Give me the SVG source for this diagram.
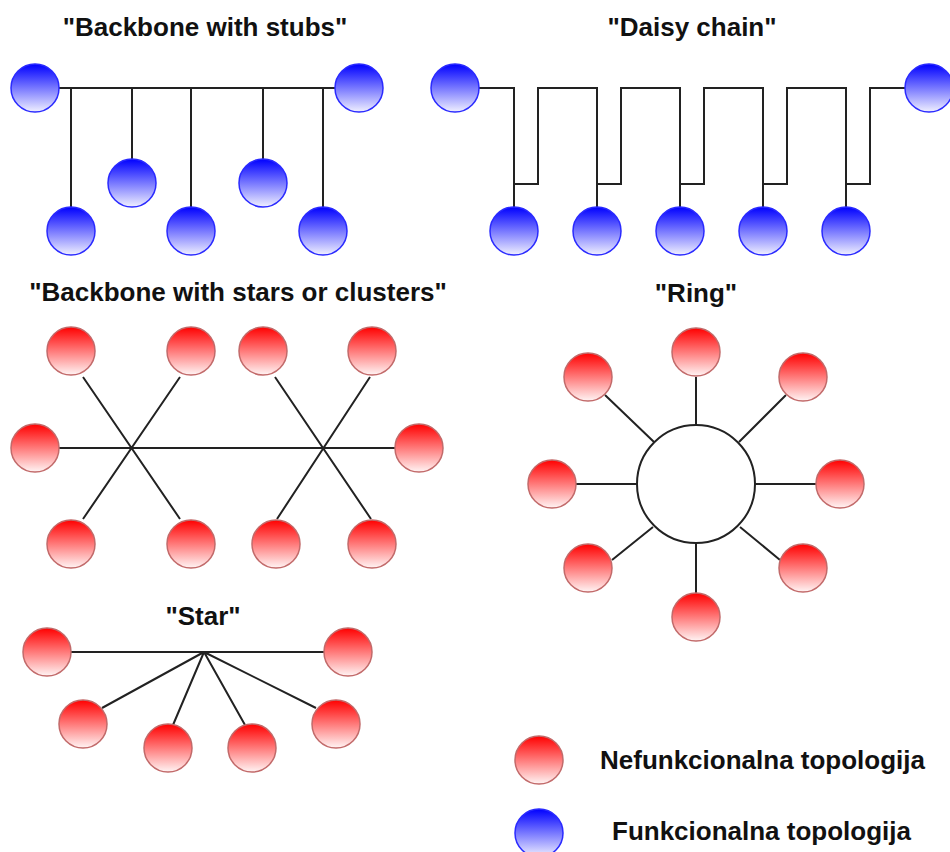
<svg xmlns="http://www.w3.org/2000/svg" width="950" height="852" viewBox="0 0 950 852">
  <defs>
    <linearGradient id="gBlue" x1="0" y1="0" x2="0" y2="1">
      <stop offset="0" stop-color="#0000ff"/>
      <stop offset="1" stop-color="#f0f0ff"/>
    </linearGradient>
    <linearGradient id="gRed" x1="0" y1="0" x2="0" y2="1">
      <stop offset="0" stop-color="#ff0000"/>
      <stop offset="1" stop-color="#fff4f4"/>
    </linearGradient>
    <style>
      .fn { fill: url(#gBlue); stroke: #2a2aff; stroke-width: 1.5; }
      .nf { fill: url(#gRed); stroke: #c26a6a; stroke-width: 1.5; }
      .wire { fill: none; stroke: #222; stroke-width: 2; }
      .ring { fill: #fff; stroke: #222; stroke-width: 2; }
      .title { font-family: "Liberation Sans", Arial, sans-serif; font-weight: bold; font-size: 26px; fill: #111; text-anchor: middle; }
      .legend { font-family: "Liberation Sans", Arial, sans-serif; font-weight: bold; font-size: 26px; fill: #111; }
    </style>
  </defs>
  <rect width="950" height="852" fill="#fff"/>

  <!-- titles -->
  <g id="titles">
    <text class="title" x="205" y="36">"Backbone with stubs"</text>
    <text class="title" x="692" y="36">"Daisy chain"</text>
    <text class="title" x="238" y="301">"Backbone with stars or clusters"</text>
    <text class="title" x="696" y="302">"Ring"</text>
    <text class="title" x="203" y="625">"Star"</text>
  </g>

  <!-- connectors -->
  <g id="connectors" class="wire">
    <!-- backbone with stubs -->
    <path d="M59 88 H335 M71 88 V207 M132 88 V159 M191 88 V207 M263 88 V159 M323 88 V207"/>
    <!-- daisy chain -->
    <path d="M479 88 H514 V207 M514 184 H538 V88 H597 V207 M597 184 H621 V88 H680 V207 M680 184 H704 V88 H763 V207 M763 184 H787 V88 H846 V207 M846 184 H870 V88 H905"/>
    <!-- backbone with stars -->
    <path d="M59 448 H395 M83 377 L180 519 M180 377 L83 519 M275 377 L371 519 M370 377 L277 519"/>
    <!-- ring spokes -->
    <path d="M696 377 V425 M605 395 L654 442 M786 395 L739 442 M576 484 H637 M755 484 H816 M653 527 L612 560 M740 527 L780 560 M696 543 V593"/>
    <!-- star -->
    <path d="M71 652 H324 M204 652 L102 708 M204 652 L173 725 M204 652 L245 725 M204 652 L316 708"/>
  </g>

  <!-- ring core -->
  <g id="ring-core">
    <circle class="ring" cx="696" cy="484" r="59"/>
  </g>

  <!-- backbone with stubs -->
  <g id="stubs-nodes">
    <circle id="s1" class="fn" cx="35" cy="88" r="24"/>
    <circle id="s2" class="fn" cx="359" cy="88" r="24"/>
    <circle id="s3" class="fn" cx="71" cy="231" r="24"/>
    <circle id="s4" class="fn" cx="132" cy="183" r="24"/>
    <circle id="s5" class="fn" cx="191" cy="231" r="24"/>
    <circle id="s6" class="fn" cx="263" cy="183" r="24"/>
    <circle id="s7" class="fn" cx="323" cy="231" r="24"/>
  </g>

  <!-- daisy chain -->
  <g id="daisy-nodes">
    <circle id="d1" class="fn" cx="455" cy="88" r="24"/>
    <circle id="d2" class="fn" cx="929" cy="88" r="24"/>
    <circle id="d3" class="fn" cx="514" cy="231" r="24"/>
    <circle id="d4" class="fn" cx="597" cy="231" r="24"/>
    <circle id="d5" class="fn" cx="680" cy="231" r="24"/>
    <circle id="d6" class="fn" cx="763" cy="231" r="24"/>
    <circle id="d7" class="fn" cx="846" cy="231" r="24"/>
  </g>

  <!-- backbone with stars or clusters -->
  <g id="cluster-nodes">
    <circle id="c1" class="nf" cx="71" cy="351" r="24"/>
    <circle id="c2" class="nf" cx="191" cy="351" r="24"/>
    <circle id="c3" class="nf" cx="263" cy="351" r="24"/>
    <circle id="c4" class="nf" cx="372" cy="351" r="24"/>
    <circle id="c5" class="nf" cx="35" cy="448" r="24"/>
    <circle id="c6" class="nf" cx="419" cy="448" r="24"/>
    <circle id="c7" class="nf" cx="71" cy="544" r="24"/>
    <circle id="c8" class="nf" cx="191" cy="544" r="24"/>
    <circle id="c9" class="nf" cx="276" cy="544" r="24"/>
    <circle id="c10" class="nf" cx="372" cy="544" r="24"/>
  </g>

  <!-- ring -->
  <g id="ring-nodes">
    <circle id="r1" class="nf" cx="696" cy="352" r="24"/>
    <circle id="r2" class="nf" cx="588" cy="377" r="24"/>
    <circle id="r3" class="nf" cx="803" cy="377" r="24"/>
    <circle id="r4" class="nf" cx="552" cy="484" r="24"/>
    <circle id="r5" class="nf" cx="840" cy="484" r="24"/>
    <circle id="r6" class="nf" cx="588" cy="568" r="24"/>
    <circle id="r7" class="nf" cx="803" cy="568" r="24"/>
    <circle id="r8" class="nf" cx="696" cy="617" r="24"/>
  </g>

  <!-- star -->
  <g id="star-nodes">
    <circle id="t1" class="nf" cx="47" cy="652" r="24"/>
    <circle id="t2" class="nf" cx="348" cy="652" r="24"/>
    <circle id="t3" class="nf" cx="83" cy="724" r="24"/>
    <circle id="t4" class="nf" cx="168" cy="748" r="24"/>
    <circle id="t5" class="nf" cx="252" cy="748" r="24"/>
    <circle id="t6" class="nf" cx="336" cy="724" r="24"/>
  </g>

  <!-- legend -->
  <g id="legend-nonfunctional">
    <circle class="nf" cx="539" cy="760" r="24"/>
    <text class="legend" x="600" y="769">Nefunkcionalna topologija</text>
  </g>
  <g id="legend-functional">
    <circle class="fn" cx="539" cy="833" r="24"/>
    <text class="legend" x="612" y="840">Funkcionalna topologija</text>
  </g>
</svg>
